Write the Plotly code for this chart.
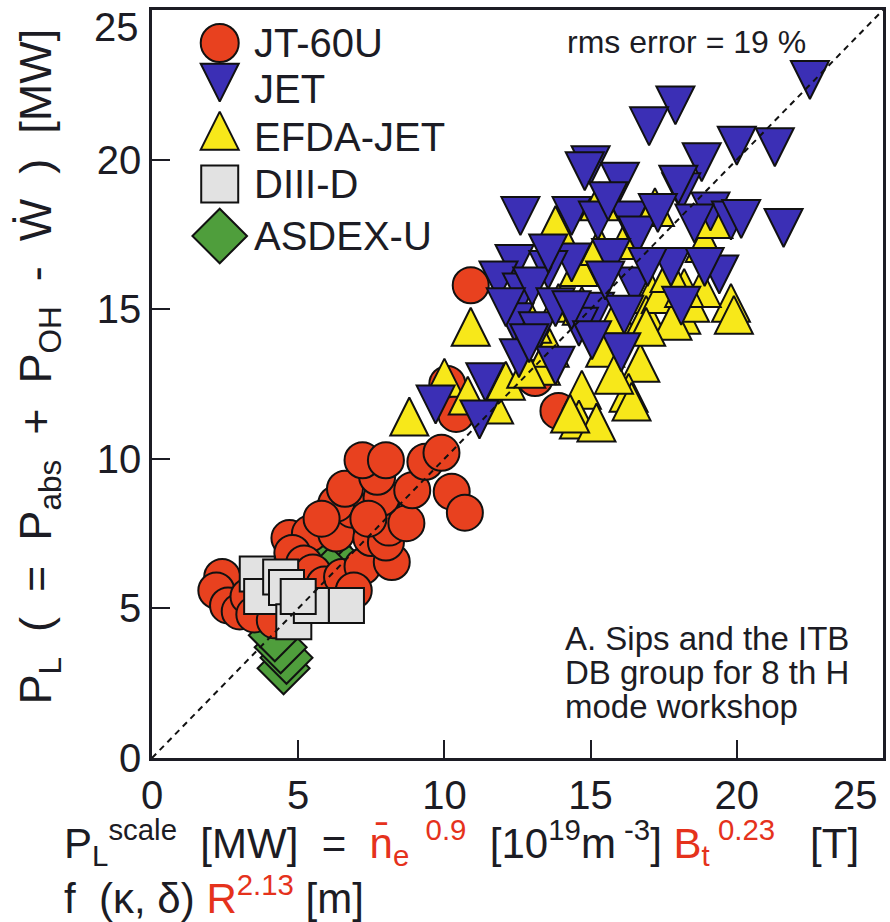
import plotly.graph_objects as go

# ---------------- data ----------------
jt60u_x = [2.4, 2.2, 2.6, 3.0, 3.3, 3.5, 4.2, 4.7, 5.4, 4.8, 5.2, 5.5, 5.9, 6.5, 7.2, 8.2, 6.9,
           6.3, 7.5, 8.0, 8.1, 8.7, 6.85, 6.3, 6.6, 7.85, 8.9, 7.7, 7.2, 8.0, 9.35, 10.25, 10.7,
           5.8, 7.4, 10.9, 10.1, 13.1, 13.9, 10.4, 9.9]
jt60u_y = [6.05, 5.6, 5.1, 4.9, 5.4, 4.8, 4.6, 7.35, 7.5, 6.85, 6.5, 6.2, 5.8, 6.05, 6.4, 6.55, 5.6,
           7.5, 7.35, 7.2, 7.7, 7.85, 8.3, 8.5, 9.0, 8.7, 8.95, 9.4, 9.95, 9.95, 9.9, 8.9, 8.2,
           8.0, 8.0, 15.8, 12.5, 12.7, 11.6, 11.5, 10.2]

jet_x = [22.5, 17.9, 17.0, 20.0, 21.3, 21.6, 18.8, 12.6, 15.0, 14.8, 16.0, 18.1, 18.0, 19.1,
         19.8, 20.15, 18.55, 14.35, 15.25, 16.3, 16.6, 17.75, 19.4, 18.9, 12.4, 11.85, 12.65,
         14.35, 15.7, 16.5, 15.15, 16.15, 18.1, 12.4, 13.2, 14.6, 13.8, 12.55, 16.05, 11.4,
         11.2, 13.55, 13.0, 13.8, 14.35, 15.5, 16.95, 17.3, 15.6, 13.55, 12.1, 12.9, 15.05, 9.7]
jet_y = [22.45, 21.6, 20.9, 20.25, 20.2, 17.5, 19.7, 17.9, 19.6, 19.4, 19.05, 18.7, 18.95, 18.05,
         17.75, 17.8, 17.65, 17.9, 17.75, 17.75, 17.25, 16.2, 15.95, 16.2, 16.3, 15.75, 15.35,
         16.35, 16.5, 15.55, 14.7, 14.6, 14.9, 14.35, 14.05, 14.2, 12.9, 13.15, 13.35, 12.35,
         11.1, 16.1, 15.55, 14.85, 14.75, 15.75, 16.2, 18.0, 18.4, 16.65, 14.85, 13.65, 13.75, 11.6]

efda_x = [8.8, 10.0, 10.9, 10.8, 11.7, 13.9, 13.8, 15.3, 17.2, 18.9, 19.8, 18.8, 18.1, 18.4,
          17.1, 16.7, 16.3, 16.4, 14.7, 14.6, 15.2, 14.3, 13.3, 13.6, 15.5, 15.9, 16.9, 17.4,
          14.6, 16.2, 15.3, 17.8, 13.0, 14.7, 19.2, 16.9, 18.2, 12.1, 12.8, 19.9, 17.7, 15.8]
efda_y = [11.2, 12.5, 14.2, 11.9, 11.6, 15.0, 17.6, 18.4, 18.2, 17.0, 15.0, 15.5, 14.6, 15.0,
          15.3, 13.0, 12.0, 11.7, 12.1, 11.1, 11.0, 11.3, 12.9, 13.5, 13.5, 14.6, 14.6, 15.3,
          16.2, 17.1, 16.9, 14.4, 14.3, 14.9, 17.8, 14.2, 15.5, 12.4, 12.8, 14.6, 16.0, 12.6]

diiid_x = [3.6, 3.75, 4.4, 4.6, 4.85, 5.45, 6.65, 5.0]
diiid_y = [6.15, 5.4, 6.05, 5.7, 4.55, 5.1, 5.1, 5.4]

asdex_x = [4.5, 4.6, 4.4, 4.2, 5.9, 6.3, 5.6, 6.1]
asdex_y = [3.0, 3.35, 3.7, 4.1, 7.05, 6.65, 6.9, 6.2]

series_names = ["JT-60U", "JET", "EFDA-JET", "DIII-D", "ASDEX-U"]
axis_ticks = [0, 5, 10, 15, 20, 25]
axis_ticktext = ["0", "5", "10", "15", "20", ""]   # "25" drawn separately (edge label)
edge_label = "25"
axis_range = [0, 25]

# ---------------- styling ----------------
W, H = 890, 922
ML, MR, MT, MB = 152, 4, 10, 164
PW, PH = W - ML - MR, H - MT - MB
FONT = "Liberation Sans, Arial, Helvetica, sans-serif"
INK = "#1c1c24"
RED = "#e8411f"
BLUE = "#3b2fb5"
YELLOW = "#f7e81a"
GRAY = "#e2e2e2"
GREEN = "#4f9e3c"
RED_TXT = "#e5321c"
NB = "\u00a0"

TRI = 38                     # arrow marker size (apex anchored)
y_unit = PH / (axis_range[1] - axis_range[0])
up_shift = (2 / 3) * TRI / y_unit     # arrow-up: centroid 2/3 below apex
dn_shift = (1 / 3) * TRI / y_unit     # arrow-down: centroid 1/3 above apex

fig = go.Figure()
line = dict(color="#111111", width=2)

fig.add_trace(go.Scatter(x=asdex_x, y=asdex_y, mode="markers", name=series_names[4],
                         marker=dict(symbol="diamond", size=40, color=GREEN, line=line)))
fig.add_trace(go.Scatter(x=jt60u_x, y=jt60u_y, mode="markers", name=series_names[0],
                         marker=dict(symbol="circle", size=36, color=RED, line=line)))
fig.add_trace(go.Scatter(x=diiid_x, y=diiid_y, mode="markers", name=series_names[3],
                         marker=dict(symbol="square", size=35, color=GRAY, line=line)))
fig.add_trace(go.Scatter(x=efda_x, y=efda_y, mode="markers", name=series_names[2],
                         xaxis="x", yaxis="y2",
                         marker=dict(symbol="arrow-up", size=TRI, color=YELLOW, line=line)))
fig.add_trace(go.Scatter(x=jet_x, y=jet_y, mode="markers", name=series_names[1],
                         xaxis="x", yaxis="y3",
                         marker=dict(symbol="arrow-down", size=TRI, color=BLUE, line=line)))

# ---- custom legend (large symbols) ----
leg_px_x = 220
leg_px_y = [43, 89, 137, 184, 236]
def fx(px):
    return axis_range[0] + (px - ML) / PW * (axis_range[1] - axis_range[0])
def fy(py):
    return axis_range[0] + (MT + PH - py) / PH * (axis_range[1] - axis_range[0])

leg_syms = [("circle", 38, RED, "y"), ("arrow-down", TRI, BLUE, "y3"),
            ("arrow-up", TRI, YELLOW, "y2"), ("square", 37, GRAY, "y"), ("diamond", 42, GREEN, "y")]
for i, (sym, sz, col, ya) in enumerate(leg_syms):
    fig.add_trace(go.Scatter(x=[fx(leg_px_x)], y=[fy(leg_px_y[i])], mode="markers", yaxis=ya,
                             marker=dict(symbol=sym, size=sz, color=col, line=line),
                             hoverinfo="skip"))
    fig.add_annotation(x=fx(252), y=fy(leg_px_y[i]), xref="x", yref="y", text=series_names[i],
                       showarrow=False, xanchor="left", yanchor="middle",
                       font=dict(family=FONT, size=40, color=INK))

axis_common = dict(range=axis_range, tickvals=axis_ticks, ticktext=axis_ticktext,
                   ticks="inside", ticklen=18,
                   tickwidth=2, tickcolor=INK, showline=True, linecolor=INK, linewidth=2.5,
                   mirror=True, showgrid=False, zeroline=False,
                   tickfont=dict(family=FONT, size=40, color=INK))

fig.update_layout(
    width=W, height=H,
    margin=dict(l=ML, r=MR, t=MT, b=MB, pad=0),
    paper_bgcolor="white", plot_bgcolor="white",
    showlegend=False,
    xaxis=dict(**axis_common),
    yaxis=dict(**axis_common),
    yaxis2=dict(range=[axis_range[0] - up_shift, axis_range[1] - up_shift], overlaying="y",
                visible=False, showgrid=False, zeroline=False),
    yaxis3=dict(range=[axis_range[0] + dn_shift, axis_range[1] + dn_shift], overlaying="y",
                visible=False, showgrid=False, zeroline=False),
)

# edge tick labels "25" (kept inside the page like the reference)
fig.add_annotation(x=(858 - ML) / PW, y=(MT + PH - 795) / PH, xref="paper", yref="paper",
                   text=edge_label, showarrow=False, xanchor="center", yanchor="middle",
                   font=dict(family=FONT, size=40, color=INK))
fig.add_annotation(x=(141 - ML) / PW, y=(MT + PH - 27) / PH, xref="paper", yref="paper",
                   text=edge_label, showarrow=False, xanchor="right", yanchor="middle",
                   font=dict(family=FONT, size=40, color=INK))

# dashed y = x line (above markers)
fig.add_shape(type="line", x0=axis_range[0], y0=axis_range[0], x1=axis_range[1], y1=axis_range[1],
              xref="x", yref="y", layer="above",
              line=dict(color="#111111", width=2, dash="6px,5px"))

# annotations
fig.add_annotation(x=fx(567), y=fy(42), xref="x", yref="y", text="rms error = 19 %",
                   showarrow=False, xanchor="left", yanchor="middle",
                   font=dict(family=FONT, size=32, color=INK))
for txt, py in zip(["A. Sips and the ITB", "DB group for 8 th H", "mode workshop"], [638, 672, 706]):
    fig.add_annotation(x=fx(565), y=fy(py), xref="x", yref="y", text=txt,
                       showarrow=False, xanchor="left", yanchor="middle",
                       font=dict(family=FONT, size=33, color=INK))

# y-axis title
D = " " + NB   # wide gap
ytitle = ("P<sub>L</sub>" + D + "(" + D + "=" + D + "P<sub>abs</sub>" + D + "+" + D +
          "P<sub>OH</sub>" + D + "-" + D + "Ẇ" + D + ")" + D + "[MW]")
fig.add_annotation(x=(38 - ML) / PW, y=(MT + PH - 366) / PH, xref="paper", yref="paper",
                   text=ytitle,
                   textangle=-90, showarrow=False, xanchor="center", yanchor="middle",
                   font=dict(family=FONT, size=45, color=INK))

# x-axis title, two lines
red = lambda s: f"<span style='color:{RED_TXT}'>{s}</span>"
line1 = ("P<sub>L</sub><sup>scale</sup>" + D + "[MW]" + D + "=" + D +
         red("n\u0304<sub>e</sub><sup>" + D + "0.9</sup>") + D +
         "[10<sup>19</sup>m<sup>" + NB + "-3</sup>]" + NB +
         red("B<sub>t</sub><sup>" + NB + "0.23</sup>") + D + NB + "[T]")
line2 = "f" + D + "(κ, δ) " + red("R<sup>2.13</sup>") + " [m]"
fig.add_annotation(x=(62 - ML) / PW, y=(MT + PH - 843) / PH, xref="paper", yref="paper",
                   text=line1, showarrow=False, xanchor="left", yanchor="middle",
                   font=dict(family=FONT, size=42, color=INK))
fig.add_annotation(x=(62 - ML) / PW, y=(MT + PH - 895) / PH, xref="paper", yref="paper",
                   text=line2, showarrow=False, xanchor="left", yanchor="middle",
                   font=dict(family=FONT, size=42, color=INK))

fig.write_html("out.html")
